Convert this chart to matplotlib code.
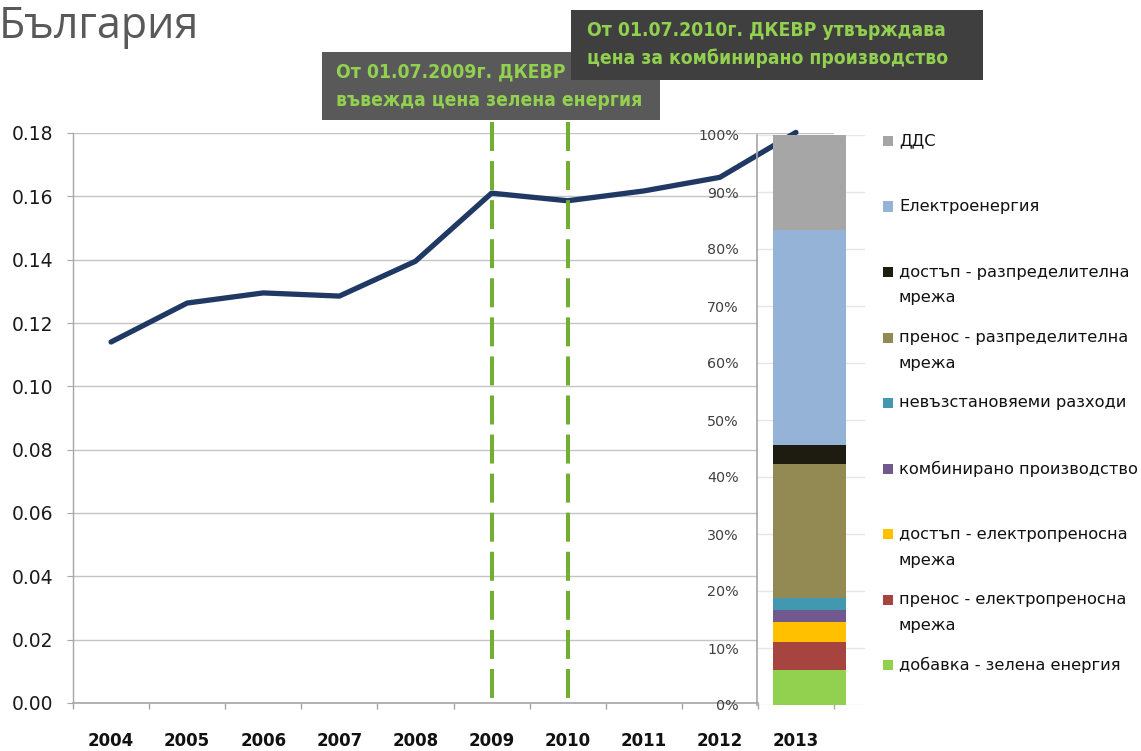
import matplotlib
matplotlib.use('Agg')
import matplotlib.pyplot as plt
from matplotlib.patches import Rectangle
from matplotlib import font_manager
import numpy as np

# ---------------- data ----------------
years = ['2004', '2005', '2006', '2007', '2008', '2009', '2010', '2011', '2012', '2013']
price = [0.114, 0.1263, 0.1295, 0.1285, 0.1395, 0.161, 0.1586, 0.1617, 0.1660, 0.1802]

event_years = ['2009', '2010']
event_texts = [
    ['От 01.07.2009г. ДКЕВР', 'въвежда цена зелена енергия'],
    ['От 01.07.2010г. ДКЕВР утвърждава', 'цена за комбинирано производство'],
]

bar_category = ['2013']
share_labels = [
    'добавка - зелена енергия',
    'пренос - електропреносна\nмрежа',
    'достъп - електропреносна\nмрежа',
    'комбинирано производство',
    'невъзстановяеми разходи',
    'пренос - разпределителна\nмрежа',
    'достъп - разпределителна\nмрежа',
    'Електроенергия',
    'ДДС',
]
share_values = [6.1, 5.0, 3.5, 2.1, 2.1, 23.5, 3.3, 37.7, 16.7]
share_colors = ['#92D050', '#A8443F', '#FFC000', '#71588F', '#4198AF',
                '#938953', '#1E1C11', '#95B3D7', '#A6A6A6']

title = 'България'

# ---------------- helpers ----------------
W, H = 1141, 751
fig = plt.figure(figsize=(W / 100, H / 100), dpi=100)
fig.patch.set_facecolor('white')


def fx(x):
    return x / W


def fy(y):
    return 1 - y / H


names = {f.name for f in font_manager.fontManager.ttflist}
if 'Liberation Sans Narrow' in names:
    ann_font = dict(family='Liberation Sans Narrow', weight='bold')
else:
    ann_font = dict(family='DejaVu Sans', weight='bold', stretch='condensed')
title_family = 'Open Sans' if 'Open Sans' in names else 'DejaVu Sans'

# ---------------- main line chart ----------------
ax = fig.add_axes([fx(73), fy(703), (834 - 73) / W, 570 / H])
x = np.arange(len(years))
ax.set_xlim(-0.5, len(years) - 0.5)
ax.set_ylim(0, 0.18)
ax.set_yticks(np.arange(0, 0.1801, 0.02))
ax.set_yticklabels([f'{v:.2f}' for v in np.arange(0, 0.1801, 0.02)])
ax.yaxis.grid(True, color='#C4C4C4', lw=1.0)
ax.set_axisbelow(True)
for s in ['top', 'right', 'bottom']:
    ax.spines[s].set_visible(False)
ax.spines['left'].set_color('#A6A6A6')
ax.spines['left'].set_linewidth(1.0)
ax.tick_params(axis='y', which='major', length=4.3, color='#A6A6A6',
               labelsize=13.5, labelcolor='#1a1a1a', pad=10)

ax.set_xticks(np.arange(-0.5, len(years), 1.0))
ax.set_xticklabels([])
ax.set_xticks(x, minor=True)
ax.set_xticklabels(years, minor=True, fontweight='bold', fontsize=12, color='#111111')
ax.tick_params(axis='x', which='major', length=4.3, color='#A6A6A6', width=1.0)
ax.tick_params(axis='x', which='minor', length=0, pad=21)

# bottom axis line (stops where the inset starts)
ax.plot([-0.5, len(years) - 1.5], [0, 0], color='#A6A6A6', lw=1.2,
        clip_on=False, zorder=2.5)
# white cover behind the inset area
ax.add_patch(Rectangle((len(years) - 1.5, 0), 1.0, 0.1785, facecolor='white',
                       edgecolor='none', zorder=1))

ax.plot(x, price, color='#1F3864', lw=3.8, solid_capstyle='round',
        solid_joinstyle='round', zorder=3, clip_on=False)

for ey in event_years:
    xi = years.index(ey)
    ax.plot([xi, xi], [0.1835, 0.0], color='#72AE32', lw=2.9,
            dashes=(7.2, 2.5), clip_on=False, zorder=4)

# ---------------- inset stacked bar ----------------
axi = fig.add_axes([fx(757), fy(705), 108 / W, 570 / H])
axi.patch.set_alpha(0)
axi.set_xlim(-0.486, 0.514)
axi.set_ylim(0, 100)
bottom = 0.0
for val, col in zip(share_values, share_colors):
    axi.bar(np.arange(len(bar_category)), [val], bottom=bottom, width=0.676,
            color=col, edgecolor='none', zorder=2)
    bottom += val
axi.set_yticks(np.arange(0, 101, 10))
axi.set_yticklabels([f'{v}%' for v in range(0, 101, 10)])
axi.yaxis.grid(True, color='#E6E6E6', lw=1.0)
axi.set_axisbelow(True)
axi.tick_params(axis='y', length=0, pad=13, labelsize=10.3, labelcolor='#404040')
axi.set_xticks([])
for s in ['top', 'right', 'bottom']:
    axi.spines[s].set_visible(False)
axi.spines['left'].set_color('#A6A6A6')
axi.spines['left'].set_linewidth(1.2)

# ---------------- legend ----------------
for i, (lab, col) in enumerate(zip(share_labels[::-1], share_colors[::-1])):
    y0 = 141 + i * 65.5
    fig.patches.append(Rectangle((fx(883), fy(y0 + 5)), 10 / W, 10 / H,
                                 transform=fig.transFigure, facecolor=col,
                                 edgecolor='none'))
    for k, line in enumerate(lab.split('\n')):
        fig.text(fx(899), fy(y0 + k * 26), line, va='center', ha='left',
                 fontsize=11.7, color='#111111')

# ---------------- title ----------------
t_title = fig.text(fx(-1), fy(27), title, va='center', ha='left', fontsize=30,
                   color='#595959', family=title_family)

# ---------------- annotation boxes ----------------
boxes = [((322, 52, 660, 120), '#595959', (336, 72, 101)),
         ((571, 10, 983, 80), '#3F3F3F', (587, 30, 58))]
ann_texts = []
for (rect, col, (tx, ty1, ty2)), lines, z in zip(boxes, event_texts, [5, 7]):
    x0, y0, x1, y1 = rect
    fig.patches.append(Rectangle((fx(x0), fy(y1)), (x1 - x0) / W, (y1 - y0) / H,
                                 transform=fig.transFigure, facecolor=col,
                                 edgecolor='none', zorder=z))
    for ty, line in zip([ty1, ty2], lines):
        ann_texts.append(fig.text(fx(tx), fy(ty), line, va='center', ha='left',
                                  fontsize=13, color='#92D050', zorder=z + 1,
                                  **ann_font))

# fit font sizes to measured widths
r = fig.canvas.get_renderer()
w = t_title.get_window_extent(r).width
t_title.set_fontsize(t_title.get_fontsize() * 200 / w)
ref = ann_texts[3]
w = ref.get_window_extent(r).width
scale = 361 / w
for t in ann_texts:
    t.set_fontsize(t.get_fontsize() * scale)

fig.savefig('out.png', dpi=100, facecolor='white')
